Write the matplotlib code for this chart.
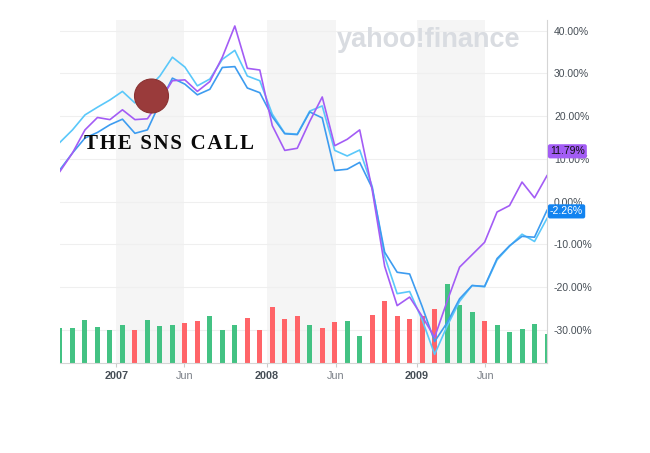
import matplotlib
matplotlib.use('Agg')
import matplotlib.pyplot as plt
from matplotlib.patches import Circle
import matplotlib.transforms as mtrans
import numpy as np

# monthly % change
purple = [7.1, 11.4, 16.8, 19.7, 19.2, 21.5, 19.2, 19.4, 23.6, 28.3,
          28.5, 25.8, 28.1, 33.8, 41.1, 31.2, 30.8, 17.8, 12.0, 12.5,
          18.8, 24.5, 13.1, 14.6, 16.8, 2.8, -15.1, -24.3, -22.3, -26.8,
          -31.7, -23.3, -15.3, -12.4, -9.5, -2.4, -0.9, 4.6, 0.9, 6.1]
light_blue = [13.9, 16.8, 20.3, 22.1, 23.8, 25.8, 23.1, 26.4, 29.4, 33.8,
              31.5, 27.1, 28.7, 33.3, 35.4, 29.4, 28.3, 20.5, 16.0, 15.8,
              21.2, 22.4, 12.0, 10.7, 12.1, 3.6, -12.8, -21.5, -21.0, -27.6,
              -35.7, -29.1, -23.3, -19.6, -19.9, -13.6, -10.4, -7.6, -9.3, -3.9]
blue = [7.5, 11.4, 14.9, 16.2, 18.0, 19.3, 16.0, 16.8, 23.1, 28.9,
        27.5, 25.0, 26.3, 31.4, 31.6, 26.6, 25.5, 19.9, 15.9, 15.7,
        21.0, 19.6, 7.3, 7.6, 9.2, 3.2, -11.8, -16.5, -16.9, -24.5,
        -32.7, -28.3, -22.7, -19.6, -19.8, -13.3, -10.3, -8.1, -8.3, -2.0]

# volume (arbitrary units), and whether the month closed up
volume = [35, 34.4, 42.4, 35.7, 32.7, 38, 32.7, 42.4, 36.7, 38,
          39.4, 41.7, 46.4, 32.7, 38, 44.7, 32.7, 56, 43.4, 47,
          38, 34.4, 40.4, 41.7, 26.7, 47.7, 62, 47, 43.4, 47,
          53.7, 79, 58, 50.7, 41.7, 37.4, 30.7, 33.7, 38.7, 29]
up = [1, 1, 1, 1, 1, 1, 0, 1, 1, 1,
      0, 0, 1, 1, 1, 0, 0, 0, 0, 0,
      1, 0, 0, 1, 1, 0, 0, 0, 0, 0,
      0, 1, 1, 1, 0, 1, 1, 1, 1, 1]
vol_top = 343

tick_pos = [4.52, 9.97, 16.58, 22.07, 28.58, 34.07]
tick_labels = ['2007', 'Jun', '2008', 'Jun', '2009', 'Jun']
y_ticks = [-30, -20, -10, 0, 10, 20, 30, 40]
last_purple = 11.79
last_blue = -2.26

x = np.arange(len(purple))
ymin, ymax = -37.65, 42.5

fig = plt.figure(figsize=(6.5, 4.53), dpi=100)
ax = fig.add_axes([60/650, 90.3/453, 487/650, 342.7/453])
ax.set_xlim(0, len(x) - 1)
ax.set_ylim(ymin, ymax)

for a, b in zip(tick_pos[0::2], tick_pos[1::2]):
    ax.axvspan(a, b, color='#f5f5f5', lw=0, zorder=0)
for t in y_ticks:
    ax.axhline(t, color='#efefef', lw=0.8, zorder=1)

vol_scale = (ymax - ymin) / vol_top
bar_colors = ['#43c283' if u else '#ff6468' for u in up]
ax.bar(x, np.array(volume) * vol_scale, bottom=ymin, width=0.4,
       color=bar_colors, zorder=2)

ax.plot(x, light_blue, color='#5ac8fa', lw=1.2, zorder=3)
ax.plot(x, blue, color='#3d9cf0', lw=1.2, zorder=3)
ax.plot(x, purple, color='#a35cf5', lw=1.2, zorder=4)

ax.yaxis.tick_right()
ax.set_yticks(y_ticks)
ax.set_yticklabels([f'{t:.2f}%' for t in y_ticks])
ax.tick_params(axis='y', length=0, pad=5, labelsize=7.5, labelcolor='#464e56')
ax.set_xticks(tick_pos)
ax.set_xticklabels(tick_labels)
ax.tick_params(axis='x', length=3, color='#cccccc', pad=3, labelsize=7.8)
for lbl in ax.get_xticklabels() + ax.get_yticklabels():
    lbl.set_fontfamily('Liberation Sans')
for lbl in ax.get_xticklabels():
    if lbl.get_text() == 'Jun':
        lbl.set_color('#7b8088')
    else:
        lbl.set_color('#464e56')
        lbl.set_fontweight('bold')

for s in ['top', 'left']:
    ax.spines[s].set_visible(False)
for s in ['right', 'bottom']:
    ax.spines[s].set_color('#d5d5d5')
    ax.spines[s].set_linewidth(0.8)

trans = mtrans.blended_transform_factory(ax.transAxes, ax.transData)
ax.text(1 + 3/487, last_purple, f'{last_purple:.2f}%', transform=trans,
        ha='left', va='center', fontsize=7.5, family='Liberation Sans',
        color='#111111', zorder=10, clip_on=False,
        bbox=dict(boxstyle='round,pad=0.2,rounding_size=0.2', fc='#a35cf5', ec='none'))
ax.text(1 + 3/487, last_blue, f'{last_blue:.2f}%', transform=trans,
        ha='left', va='center', fontsize=7.5, family='Liberation Sans',
        color='white', zorder=10, clip_on=False,
        bbox=dict(boxstyle='round,pad=0.2,rounding_size=0.2', fc='#1283f0', ec='none'))

fig.text(337/650, 1 - 46.7/453, 'yahoo!finance', family='Liberation Sans',
         fontweight='bold', fontsize=19.5, color='#d9dce1', ha='left', va='baseline')

fig.add_artist(Circle((1.515, (453 - 96) / 100), 0.17, transform=fig.dpi_scale_trans,
                      fc='#9a3b3b', ec='#8a3232', lw=0.8, zorder=5))
# letter-spaced banner (hair spaces come from DejaVu Serif)
banner = '\u200a'.join('THE SNS CALL')
fig.text(84/650, 1 - 148.7/453, banner, family=['Liberation Serif', 'DejaVu Serif'],
         fontweight='bold', fontsize=15, color='#0a0a0a', ha='left',
         va='baseline', zorder=6)

fig.savefig('out.png', dpi=100)
